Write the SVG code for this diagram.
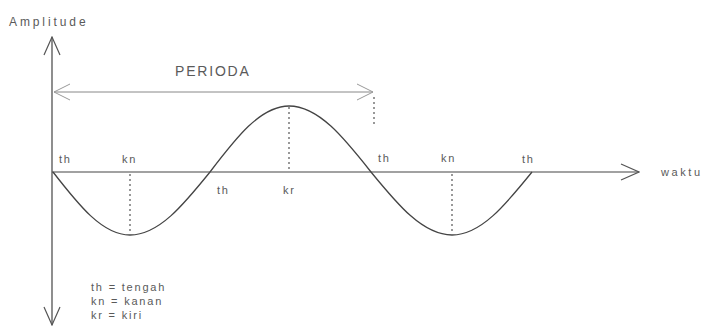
<svg xmlns="http://www.w3.org/2000/svg" width="704" height="334" viewBox="0 0 704 334">
  <style>
    .t { font-family: "Liberation Sans", Arial, sans-serif; font-size: 11px; fill: #5a5a5a; letter-spacing: 1.8px; }
    .ax { stroke: #444; stroke-width: 1.2; fill: none; }
    .dot { stroke: #555; stroke-width: 1.2; stroke-dasharray: 2 3; fill: none; }
    .per { stroke: #888; stroke-width: 1; fill: none; }
    .wave { stroke: #444; stroke-width: 1.3; fill: none; }
  </style>
  <defs>
    <marker id="ah" viewBox="0 0 20 18" refX="19" refY="9" markerWidth="20" markerHeight="18" markerUnits="userSpaceOnUse" orient="auto-start-reverse">
      <path d="M1,1 L19,9 L1,17" fill="none" stroke="#555" stroke-width="1.2"/>
    </marker>
    <marker id="ahp" viewBox="0 0 18 18" refX="17" refY="9" markerWidth="18" markerHeight="18" markerUnits="userSpaceOnUse" orient="auto-start-reverse">
      <path d="M1,1 L17,9 L1,17" fill="none" stroke="#999" stroke-width="1"/>
    </marker>
  </defs>

  <g id="connectors">
    <line id="y-axis" class="ax" x1="52" y1="37" x2="52" y2="325" marker-start="url(#ah)" marker-end="url(#ah)"/>
    <line id="x-axis" class="ax" x1="52" y1="172" x2="639" y2="172" marker-end="url(#ah)"/>
    <line id="periode" class="per" x1="54" y1="92" x2="373" y2="92" marker-start="url(#ahp)" marker-end="url(#ahp)"/>
    <line class="dot" x1="374" y1="97" x2="374" y2="127"/>
    <line class="dot" x1="130" y1="174" x2="130" y2="234"/>
    <line class="dot" x1="289" y1="107" x2="289" y2="172"/>
    <line class="dot" x1="452" y1="174" x2="452" y2="234"/>
  </g>

  <g id="wave">
    <path class="wave" d="M53,172 C78.1,204.3 102.1,235 130,235 C159,235 183.9,204.3 210,172 C235.8,138.2 260.4,106 289,106 C318.7,106 344.3,138.2 371,172 C397.4,204.3 422.7,235 452,235 C481,235 505.9,204.3 532,172"/>
  </g>

  <g id="labels">
    <text class="t" x="9" y="26" style="letter-spacing:2.9px;font-size:12px">Amplitude</text>
    <text class="t" x="175" y="76" style="font-size:14px;letter-spacing:1.8px">PERIODA</text>
    <text class="t" x="59" y="163">th</text>
    <text class="t" x="122" y="163">kn</text>
    <text class="t" x="217" y="194">th</text>
    <text class="t" x="283" y="194">kr</text>
    <text class="t" x="378" y="162">th</text>
    <text class="t" x="441" y="162">kn</text>
    <text class="t" x="522" y="163">th</text>
    <text class="t" x="661" y="176" style="letter-spacing:2.6px">waktu</text>
  </g>

  <g id="legend">
    <text class="t" x="91" y="291">th = tengah</text>
    <text class="t" x="91" y="305">kn = kanan</text>
    <text class="t" x="91" y="319">kr = kiri</text>
  </g>
</svg>
